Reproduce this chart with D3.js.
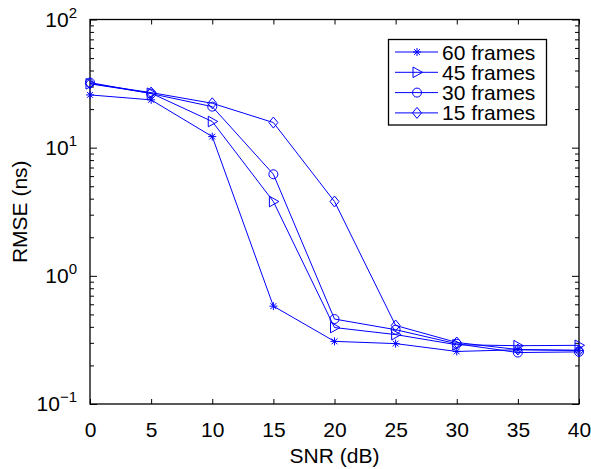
<!DOCTYPE html>
<html>
<head>
<meta charset="utf-8">
<script src="https://cdn.jsdelivr.net/npm/d3@7"></script>
<style>
  body { margin: 0; background: #fff; }
  svg { display: block; font-family: "Liberation Sans", Arial, sans-serif; }
</style>
</head>
<body>
<svg id="chart" width="591" height="469"></svg>
<script>
// data
var snr = [0, 5, 10, 15, 20, 25, 30, 35, 40];
var frames60 = [25.8, 23.6, 12.2, 0.58, 0.308, 0.296, 0.257, 0.265, 0.262];
var frames45 = [31.5, 26.6, 16.0, 3.8, 0.395, 0.348, 0.29, 0.285, 0.287];
var frames30 = [32.2, 26.4, 20.9, 6.2, 0.46, 0.38, 0.295, 0.252, 0.255];
var frames15 = [31.6, 26.9, 22.2, 15.7, 3.8, 0.41, 0.302, 0.266, 0.262];
var seriesNames = ["60 frames", "45 frames", "30 frames", "15 frames"];
var yTickExps = [-1, 0, 1, 2];

var series = [
  { name: seriesNames[0], values: frames60, marker: "star" },
  { name: seriesNames[1], values: frames45, marker: "triangle" },
  { name: seriesNames[2], values: frames30, marker: "circle" },
  { name: seriesNames[3], values: frames15, marker: "diamond" }
];

var padLeft = 90, padRight = 579, padTop = 19.5, padBottom = 404;
var blue = "#0000ff";
var fontSize = "21px";

var chart = d3.select("#chart");

var x = d3.scaleLinear().domain([0, 40]).range([padLeft, padRight]);
var y = d3.scaleLog().domain([0.1, 100]).range([padBottom, padTop]);

var markerPaths = {
  star: "M-4,0H4M0,-4V4M-2.9,-2.9L2.9,2.9M-2.9,2.9L2.9,-2.9",
  triangle: "M-4,-5.3L5.5,0L-4,5.3Z",
  circle: "M4.5,0A4.5,4.5 0 1,1 -4.5,0A4.5,4.5 0 1,1 4.5,0Z",
  diamond: "M0,-5.5L4.5,0L0,5.5L-4.5,0Z"
};

// ticks
var major = yTickExps.map(function (e) { return Math.pow(10, e); });
var minor = y.ticks().filter(function (d) {
  return yTickExps.indexOf(Math.round(Math.log10(d) * 1000) / 1000) < 0;
});

function styleAxis(g) {
  g.select(".domain").remove();
  g.selectAll("line").attr("stroke", "#000").attr("stroke-width", 1);
}

chart.append("g")
  .attr("transform", "translate(0," + padBottom + ")")
  .call(d3.axisBottom(x).tickValues(snr).tickSize(-5).tickPadding(18).tickFormat(d3.format("d")))
  .call(styleAxis)
  .selectAll("text")
  .attr("fill", "#000")
  .style("font-size", fontSize)
  .style("font-family", "Liberation Sans, Arial, sans-serif");

chart.append("g")
  .attr("transform", "translate(0," + padTop + ")")
  .call(d3.axisTop(x).tickValues(snr).tickSize(-5).tickFormat(""))
  .call(styleAxis);

chart.append("g")
  .attr("transform", "translate(" + padLeft + ",0)")
  .call(d3.axisLeft(y).tickValues(major).tickSize(-7).tickFormat(""))
  .call(styleAxis);
chart.append("g")
  .attr("transform", "translate(" + padLeft + ",0)")
  .call(d3.axisLeft(y).tickValues(minor).tickSize(-4).tickFormat(""))
  .call(styleAxis);
chart.append("g")
  .attr("transform", "translate(" + padRight + ",0)")
  .call(d3.axisRight(y).tickValues(major).tickSize(-7).tickFormat(""))
  .call(styleAxis);
chart.append("g")
  .attr("transform", "translate(" + padRight + ",0)")
  .call(d3.axisRight(y).tickValues(minor).tickSize(-4).tickFormat(""))
  .call(styleAxis);

// y tick labels 10^n
var ylab = chart.append("g").selectAll("text")
  .data(yTickExps)
  .enter()
  .append("text")
  .attr("x", padLeft - 13)
  .attr("y", function (d) { return y(Math.pow(10, d)) + 7; })
  .attr("text-anchor", "end")
  .attr("fill", "#000")
  .style("font-size", fontSize);
ylab.append("tspan").text("10");
ylab.append("tspan")
  .attr("dy", -9)
  .style("font-size", "15px")
  .text(function (d) { return d < 0 ? "\u2212" + (-d) : String(d); });

// frame
chart.append("rect")
  .attr("x", padLeft).attr("y", padTop)
  .attr("width", padRight - padLeft).attr("height", padBottom - padTop)
  .attr("fill", "none").attr("stroke", "#000").attr("stroke-width", 1.3);

// lines and markers
var line = d3.line()
  .x(function (d, i) { return x(snr[i]); })
  .y(function (d) { return y(d); });

series.forEach(function (s) {
  chart.append("path")
    .attr("d", line(s.values))
    .attr("fill", "none")
    .attr("stroke", blue)
    .attr("stroke-width", 1);
  chart.append("g").selectAll("path")
    .data(s.values)
    .enter()
    .append("path")
    .attr("transform", function (d, i) { return "translate(" + x(snr[i]) + "," + y(d) + ")"; })
    .attr("d", markerPaths[s.marker])
    .attr("fill", "none")
    .attr("stroke", blue)
    .attr("stroke-width", 1);
});

// axis labels
chart.append("text")
  .text("SNR (dB)")
  .attr("x", (padLeft + padRight) / 2)
  .attr("y", 463)
  .attr("text-anchor", "middle")
  .style("font-size", fontSize);

chart.append("text")
  .text("RMSE (ns)")
  .attr("transform", "translate(27," + (padTop + padBottom) / 2 + ") rotate(-90)")
  .attr("text-anchor", "middle")
  .style("font-size", fontSize);

// legend
var legend = chart.append("g");
legend.append("rect")
  .attr("x", 388.5).attr("y", 39.5)
  .attr("width", 158).attr("height", 85.5)
  .attr("fill", "#fff").attr("stroke", "#000").attr("stroke-width", 1.3);

var items = legend.selectAll("g.item")
  .data(series)
  .enter()
  .append("g")
  .attr("class", "item")
  .attr("transform", function (d, i) { return "translate(0," + (52 + i * 20.3) + ")"; });
items.append("line")
  .attr("x1", 395).attr("x2", 438)
  .attr("stroke", blue).attr("stroke-width", 1);
items.append("path")
  .attr("transform", "translate(417,0)")
  .attr("d", function (d) { return markerPaths[d.marker]; })
  .attr("fill", "none").attr("stroke", blue).attr("stroke-width", 1);
items.append("text")
  .text(function (d) { return d.name; })
  .attr("x", 442)
  .attr("y", 7.5)
  .style("font-size", fontSize);
</script>
</body>
</html>
